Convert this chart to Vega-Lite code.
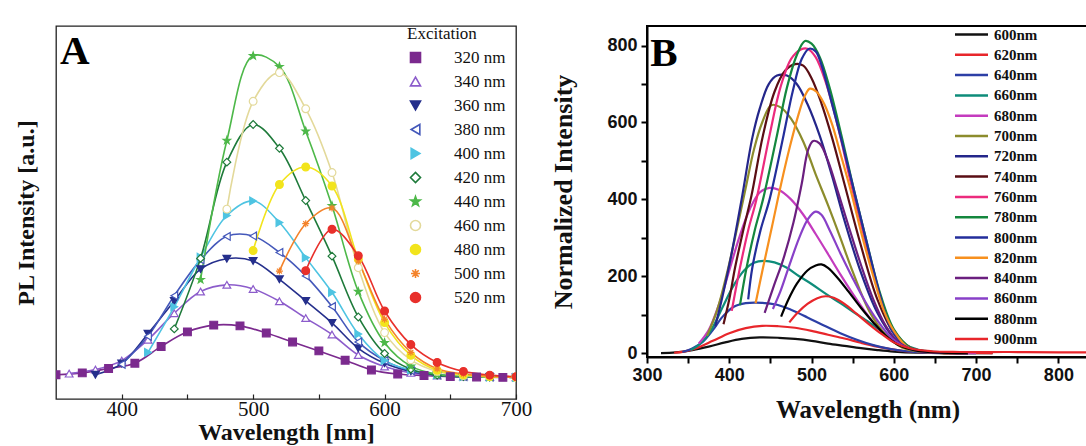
{
"$schema": "https://vega.github.io/schema/vega-lite/v6.json",
"padding": {"left": 13, "top": 15, "right": 0, "bottom": 0},
"background": "white",
"spacing": 16,
"config": {"font": "Liberation Serif"},
"resolve": {"scale": {"color": "independent", "stroke": "independent", "fill": "independent", "shape": "independent"}, "legend": {"color": "independent", "stroke": "independent", "fill": "independent", "shape": "independent"}},
"datasets": {
"a": [
{"ex":"320 nm","wl":350,"v":6.5},{"ex":"320 nm","wl":370,"v":7.0},{"ex":"320 nm","wl":390,"v":8.2},{"ex":"320 nm","wl":410,"v":9.6},{"ex":"320 nm","wl":430,"v":14.1},{"ex":"320 nm","wl":450,"v":18.0},{"ex":"320 nm","wl":470,"v":19.8},{"ex":"320 nm","wl":490,"v":19.6},{"ex":"320 nm","wl":510,"v":17.7},{"ex":"320 nm","wl":530,"v":15.3},{"ex":"320 nm","wl":550,"v":12.9},{"ex":"320 nm","wl":570,"v":10.4},{"ex":"320 nm","wl":590,"v":7.8},{"ex":"320 nm","wl":610,"v":6.7},{"ex":"320 nm","wl":630,"v":6.3},{"ex":"320 nm","wl":650,"v":6.0},{"ex":"320 nm","wl":670,"v":5.9},{"ex":"320 nm","wl":690,"v":5.8},
{"ex":"340 nm","wl":360,"v":6.8},{"ex":"340 nm","wl":380,"v":7.9},{"ex":"340 nm","wl":400,"v":10.3},{"ex":"340 nm","wl":420,"v":15.9},{"ex":"340 nm","wl":440,"v":23.0},{"ex":"340 nm","wl":460,"v":28.8},{"ex":"340 nm","wl":480,"v":30.6},{"ex":"340 nm","wl":500,"v":29.5},{"ex":"340 nm","wl":520,"v":26.2},{"ex":"340 nm","wl":540,"v":21.7},{"ex":"340 nm","wl":560,"v":17.3},{"ex":"340 nm","wl":580,"v":11.8},{"ex":"340 nm","wl":600,"v":8.7},{"ex":"340 nm","wl":620,"v":7.0},{"ex":"340 nm","wl":640,"v":6.3},{"ex":"340 nm","wl":660,"v":6.0},{"ex":"340 nm","wl":680,"v":5.9},{"ex":"340 nm","wl":700,"v":5.8},
{"ex":"360 nm","wl":380,"v":6.5},{"ex":"360 nm","wl":400,"v":9.5},{"ex":"360 nm","wl":420,"v":17.5},{"ex":"360 nm","wl":440,"v":26.3},{"ex":"360 nm","wl":460,"v":34.8},{"ex":"360 nm","wl":480,"v":37.6},{"ex":"360 nm","wl":500,"v":37.0},{"ex":"360 nm","wl":520,"v":32.1},{"ex":"360 nm","wl":540,"v":26.3},{"ex":"360 nm","wl":560,"v":20.4},{"ex":"360 nm","wl":580,"v":13.6},{"ex":"360 nm","wl":600,"v":9.6},{"ex":"360 nm","wl":620,"v":7.4},{"ex":"360 nm","wl":640,"v":6.4},{"ex":"360 nm","wl":660,"v":6.0},{"ex":"360 nm","wl":680,"v":5.9},{"ex":"360 nm","wl":700,"v":5.8},
{"ex":"380 nm","wl":400,"v":9.3},{"ex":"380 nm","wl":420,"v":16.8},{"ex":"380 nm","wl":440,"v":27.7},{"ex":"380 nm","wl":460,"v":37.3},{"ex":"380 nm","wl":480,"v":43.6},{"ex":"380 nm","wl":500,"v":43.7},{"ex":"380 nm","wl":520,"v":39.3},{"ex":"380 nm","wl":540,"v":33.0},{"ex":"380 nm","wl":560,"v":24.8},{"ex":"380 nm","wl":580,"v":15.3},{"ex":"380 nm","wl":600,"v":10.3},{"ex":"380 nm","wl":620,"v":7.6},{"ex":"380 nm","wl":640,"v":6.5},{"ex":"380 nm","wl":660,"v":6.0},{"ex":"380 nm","wl":680,"v":5.9},{"ex":"380 nm","wl":700,"v":5.8},
{"ex":"400 nm","wl":420,"v":12.5},{"ex":"400 nm","wl":440,"v":24.7},{"ex":"400 nm","wl":460,"v":38.0},{"ex":"400 nm","wl":480,"v":49.2},{"ex":"400 nm","wl":500,"v":53.1},{"ex":"400 nm","wl":520,"v":47.3},{"ex":"400 nm","wl":540,"v":37.9},{"ex":"400 nm","wl":560,"v":28.6},{"ex":"400 nm","wl":580,"v":17.4},{"ex":"400 nm","wl":600,"v":10.3},{"ex":"400 nm","wl":620,"v":7.8},{"ex":"400 nm","wl":640,"v":6.5},{"ex":"400 nm","wl":660,"v":6.0},{"ex":"400 nm","wl":680,"v":5.9},{"ex":"400 nm","wl":700,"v":5.8},
{"ex":"420 nm","wl":440,"v":18.8},{"ex":"420 nm","wl":460,"v":37.7},{"ex":"420 nm","wl":480,"v":63.5},{"ex":"420 nm","wl":500,"v":73.6},{"ex":"420 nm","wl":520,"v":67.2},{"ex":"420 nm","wl":540,"v":53.2},{"ex":"420 nm","wl":560,"v":38.3},{"ex":"420 nm","wl":580,"v":22.0},{"ex":"420 nm","wl":600,"v":12.2},{"ex":"420 nm","wl":620,"v":8.0},{"ex":"420 nm","wl":640,"v":6.4},{"ex":"420 nm","wl":660,"v":6.0},{"ex":"420 nm","wl":680,"v":5.9},{"ex":"420 nm","wl":700,"v":5.8},
{"ex":"440 nm","wl":460,"v":32.0},{"ex":"440 nm","wl":480,"v":69.3},{"ex":"440 nm","wl":500,"v":92.0},{"ex":"440 nm","wl":520,"v":89.1},{"ex":"440 nm","wl":540,"v":71.8},{"ex":"440 nm","wl":560,"v":51.8},{"ex":"440 nm","wl":580,"v":28.8},{"ex":"440 nm","wl":600,"v":15.1},{"ex":"440 nm","wl":620,"v":8.8},{"ex":"440 nm","wl":640,"v":6.6},{"ex":"440 nm","wl":660,"v":6.1},{"ex":"440 nm","wl":680,"v":5.9},{"ex":"440 nm","wl":700,"v":5.8},
{"ex":"460 nm","wl":480,"v":50.9},{"ex":"460 nm","wl":500,"v":79.8},{"ex":"460 nm","wl":520,"v":87.5},{"ex":"460 nm","wl":540,"v":77.8},{"ex":"460 nm","wl":560,"v":60.7},{"ex":"460 nm","wl":580,"v":35.2},{"ex":"460 nm","wl":600,"v":17.8},{"ex":"460 nm","wl":620,"v":10.5},{"ex":"460 nm","wl":640,"v":7.4},{"ex":"460 nm","wl":660,"v":6.3},{"ex":"460 nm","wl":680,"v":6.0},{"ex":"460 nm","wl":700,"v":5.8},
{"ex":"480 nm","wl":500,"v":39.8},{"ex":"480 nm","wl":520,"v":57.5},{"ex":"480 nm","wl":540,"v":62.2},{"ex":"480 nm","wl":560,"v":57.1},{"ex":"480 nm","wl":580,"v":37.5},{"ex":"480 nm","wl":600,"v":20.5},{"ex":"480 nm","wl":620,"v":11.7},{"ex":"480 nm","wl":640,"v":7.7},{"ex":"480 nm","wl":660,"v":6.5},{"ex":"480 nm","wl":680,"v":6.0},{"ex":"480 nm","wl":700,"v":5.9},
{"ex":"500 nm","wl":520,"v":34.3},{"ex":"500 nm","wl":540,"v":47.0},{"ex":"500 nm","wl":560,"v":51.2},{"ex":"500 nm","wl":580,"v":37.0},{"ex":"500 nm","wl":600,"v":21.4},{"ex":"500 nm","wl":620,"v":12.5},{"ex":"500 nm","wl":640,"v":8.1},{"ex":"500 nm","wl":660,"v":6.7},{"ex":"500 nm","wl":680,"v":6.1},{"ex":"500 nm","wl":700,"v":5.9},
{"ex":"520 nm","wl":540,"v":34.4},{"ex":"520 nm","wl":560,"v":45.5},{"ex":"520 nm","wl":580,"v":38.4},{"ex":"520 nm","wl":600,"v":23.6},{"ex":"520 nm","wl":620,"v":14.6},{"ex":"520 nm","wl":640,"v":9.8},{"ex":"520 nm","wl":660,"v":7.4},{"ex":"520 nm","wl":680,"v":6.4},{"ex":"520 nm","wl":700,"v":6.0}
],
"b": [
{"ex":"600nm","wl":317,"v":0},{"ex":"600nm","wl":335,"v":2},{"ex":"600nm","wl":355,"v":8},{"ex":"600nm","wl":375,"v":17},{"ex":"600nm","wl":395,"v":28},{"ex":"600nm","wl":415,"v":37},{"ex":"600nm","wl":437,"v":41},{"ex":"600nm","wl":460,"v":40},{"ex":"600nm","wl":480,"v":37},{"ex":"600nm","wl":500,"v":32},{"ex":"600nm","wl":520,"v":25},{"ex":"600nm","wl":540,"v":19},{"ex":"600nm","wl":560,"v":13},{"ex":"600nm","wl":580,"v":8},{"ex":"600nm","wl":600,"v":4},{"ex":"600nm","wl":630,"v":1},{"ex":"600nm","wl":670,"v":0},{"ex":"600nm","wl":720,"v":0},
{"ex":"620nm","wl":333,"v":1},{"ex":"620nm","wl":345,"v":4},{"ex":"620nm","wl":360,"v":13},{"ex":"620nm","wl":380,"v":32},{"ex":"620nm","wl":400,"v":52},{"ex":"620nm","wl":420,"v":65},{"ex":"620nm","wl":440,"v":71},{"ex":"620nm","wl":460,"v":70},{"ex":"620nm","wl":480,"v":66},{"ex":"620nm","wl":500,"v":58},{"ex":"620nm","wl":520,"v":48},{"ex":"620nm","wl":540,"v":38},{"ex":"620nm","wl":560,"v":27},{"ex":"620nm","wl":580,"v":17},{"ex":"620nm","wl":600,"v":9},{"ex":"620nm","wl":625,"v":3},{"ex":"620nm","wl":660,"v":1},{"ex":"620nm","wl":720,"v":0},
{"ex":"640nm","wl":343,"v":3},{"ex":"640nm","wl":355,"v":12},{"ex":"640nm","wl":368,"v":30},{"ex":"640nm","wl":380,"v":60},{"ex":"640nm","wl":392,"v":95},{"ex":"640nm","wl":405,"v":120},{"ex":"640nm","wl":420,"v":130},{"ex":"640nm","wl":440,"v":131},{"ex":"640nm","wl":458,"v":126},{"ex":"640nm","wl":475,"v":113},{"ex":"640nm","wl":495,"v":93},{"ex":"640nm","wl":515,"v":72},{"ex":"640nm","wl":535,"v":52},{"ex":"640nm","wl":555,"v":35},{"ex":"640nm","wl":575,"v":21},{"ex":"640nm","wl":595,"v":11},{"ex":"640nm","wl":615,"v":5},{"ex":"640nm","wl":640,"v":1},{"ex":"640nm","wl":690,"v":0},
{"ex":"660nm","wl":353,"v":8},{"ex":"660nm","wl":365,"v":25},{"ex":"660nm","wl":378,"v":60},{"ex":"660nm","wl":392,"v":120},{"ex":"660nm","wl":405,"v":175},{"ex":"660nm","wl":418,"v":215},{"ex":"660nm","wl":430,"v":235},{"ex":"660nm","wl":442,"v":240},{"ex":"660nm","wl":455,"v":236},{"ex":"660nm","wl":470,"v":222},{"ex":"660nm","wl":485,"v":200},{"ex":"660nm","wl":500,"v":180},{"ex":"660nm","wl":517,"v":155},{"ex":"660nm","wl":535,"v":130},{"ex":"660nm","wl":550,"v":108},{"ex":"660nm","wl":570,"v":80},{"ex":"660nm","wl":590,"v":50},{"ex":"660nm","wl":610,"v":25},{"ex":"660nm","wl":630,"v":9},{"ex":"660nm","wl":660,"v":2},{"ex":"660nm","wl":700,"v":0},
{"ex":"680nm","wl":363,"v":25},{"ex":"680nm","wl":375,"v":60},{"ex":"680nm","wl":388,"v":130},{"ex":"680nm","wl":400,"v":215},{"ex":"680nm","wl":412,"v":300},{"ex":"680nm","wl":425,"v":375},{"ex":"680nm","wl":437,"v":418},{"ex":"680nm","wl":449,"v":430},{"ex":"680nm","wl":460,"v":425},{"ex":"680nm","wl":475,"v":400},{"ex":"680nm","wl":490,"v":360},{"ex":"680nm","wl":505,"v":310},{"ex":"680nm","wl":520,"v":258},{"ex":"680nm","wl":535,"v":205},{"ex":"680nm","wl":550,"v":155},{"ex":"680nm","wl":565,"v":108},{"ex":"680nm","wl":580,"v":68},{"ex":"680nm","wl":595,"v":38},{"ex":"680nm","wl":610,"v":18},{"ex":"680nm","wl":630,"v":6},{"ex":"680nm","wl":660,"v":1},{"ex":"680nm","wl":700,"v":0},
{"ex":"700nm","wl":373,"v":45},{"ex":"700nm","wl":385,"v":110},{"ex":"700nm","wl":398,"v":215},{"ex":"700nm","wl":410,"v":330},{"ex":"700nm","wl":420,"v":430},{"ex":"700nm","wl":430,"v":530},{"ex":"700nm","wl":440,"v":600},{"ex":"700nm","wl":451,"v":645},{"ex":"700nm","wl":462,"v":640},{"ex":"700nm","wl":475,"v":610},{"ex":"700nm","wl":490,"v":550},{"ex":"700nm","wl":505,"v":465},{"ex":"700nm","wl":520,"v":385},{"ex":"700nm","wl":535,"v":300},{"ex":"700nm","wl":550,"v":212},{"ex":"700nm","wl":570,"v":110},{"ex":"700nm","wl":590,"v":48},{"ex":"700nm","wl":610,"v":15},{"ex":"700nm","wl":635,"v":3},{"ex":"700nm","wl":670,"v":0},
{"ex":"720nm","wl":383,"v":70},{"ex":"720nm","wl":392,"v":150},{"ex":"720nm","wl":402,"v":250},{"ex":"720nm","wl":415,"v":400},{"ex":"720nm","wl":428,"v":560},{"ex":"720nm","wl":437,"v":636},{"ex":"720nm","wl":448,"v":700},{"ex":"720nm","wl":458,"v":722},{"ex":"720nm","wl":470,"v":722},{"ex":"720nm","wl":482,"v":700},{"ex":"720nm","wl":495,"v":648},{"ex":"720nm","wl":510,"v":565},{"ex":"720nm","wl":525,"v":460},{"ex":"720nm","wl":540,"v":345},{"ex":"720nm","wl":560,"v":210},{"ex":"720nm","wl":580,"v":105},{"ex":"720nm","wl":600,"v":40},{"ex":"720nm","wl":620,"v":12},{"ex":"720nm","wl":650,"v":2},{"ex":"720nm","wl":690,"v":0},
{"ex":"740nm","wl":393,"v":75},{"ex":"740nm","wl":400,"v":140},{"ex":"740nm","wl":407,"v":222},{"ex":"740nm","wl":417,"v":320},{"ex":"740nm","wl":427,"v":410},{"ex":"740nm","wl":441,"v":567},{"ex":"740nm","wl":455,"v":680},{"ex":"740nm","wl":468,"v":735},{"ex":"740nm","wl":480,"v":752},{"ex":"740nm","wl":490,"v":748},{"ex":"740nm","wl":500,"v":715},{"ex":"740nm","wl":512,"v":650},{"ex":"740nm","wl":525,"v":560},{"ex":"740nm","wl":540,"v":440},{"ex":"740nm","wl":560,"v":280},{"ex":"740nm","wl":580,"v":140},{"ex":"740nm","wl":600,"v":52},{"ex":"740nm","wl":620,"v":14},{"ex":"740nm","wl":650,"v":2},{"ex":"740nm","wl":690,"v":0},
{"ex":"760nm","wl":403,"v":110},{"ex":"760nm","wl":413,"v":222},{"ex":"760nm","wl":423,"v":320},{"ex":"760nm","wl":433,"v":400},{"ex":"760nm","wl":449,"v":567},{"ex":"760nm","wl":462,"v":690},{"ex":"760nm","wl":475,"v":765},{"ex":"760nm","wl":487,"v":790},{"ex":"760nm","wl":495,"v":792},{"ex":"760nm","wl":505,"v":770},{"ex":"760nm","wl":518,"v":700},{"ex":"760nm","wl":532,"v":590},{"ex":"760nm","wl":547,"v":450},{"ex":"760nm","wl":562,"v":320},{"ex":"760nm","wl":580,"v":170},{"ex":"760nm","wl":600,"v":60},{"ex":"760nm","wl":620,"v":15},{"ex":"760nm","wl":650,"v":2},{"ex":"760nm","wl":690,"v":0},
{"ex":"780nm","wl":413,"v":125},{"ex":"780nm","wl":421,"v":222},{"ex":"780nm","wl":431,"v":320},{"ex":"780nm","wl":441,"v":400},{"ex":"780nm","wl":458,"v":567},{"ex":"780nm","wl":470,"v":690},{"ex":"780nm","wl":482,"v":775},{"ex":"780nm","wl":492,"v":812},{"ex":"780nm","wl":500,"v":805},{"ex":"780nm","wl":510,"v":770},{"ex":"780nm","wl":522,"v":690},{"ex":"780nm","wl":537,"v":560},{"ex":"780nm","wl":552,"v":420},{"ex":"780nm","wl":567,"v":290},{"ex":"780nm","wl":582,"v":165},{"ex":"780nm","wl":600,"v":62},{"ex":"780nm","wl":620,"v":15},{"ex":"780nm","wl":650,"v":2},{"ex":"780nm","wl":690,"v":0},
{"ex":"800nm","wl":423,"v":140},{"ex":"800nm","wl":428,"v":222},{"ex":"800nm","wl":438,"v":320},{"ex":"800nm","wl":449,"v":400},{"ex":"800nm","wl":466,"v":567},{"ex":"800nm","wl":477,"v":680},{"ex":"800nm","wl":488,"v":765},{"ex":"800nm","wl":497,"v":792},{"ex":"800nm","wl":505,"v":785},{"ex":"800nm","wl":512,"v":750},{"ex":"800nm","wl":521,"v":680},{"ex":"800nm","wl":532,"v":590},{"ex":"800nm","wl":542,"v":506},{"ex":"800nm","wl":552,"v":420},{"ex":"800nm","wl":562,"v":333},{"ex":"800nm","wl":572,"v":245},{"ex":"800nm","wl":582,"v":160},{"ex":"800nm","wl":590,"v":100},{"ex":"800nm","wl":598,"v":57},{"ex":"800nm","wl":608,"v":30},{"ex":"800nm","wl":618,"v":14},{"ex":"800nm","wl":635,"v":4},{"ex":"800nm","wl":650,"v":1},{"ex":"800nm","wl":690,"v":0},
{"ex":"820nm","wl":432,"v":130},{"ex":"820nm","wl":441,"v":222},{"ex":"820nm","wl":452,"v":330},{"ex":"820nm","wl":463,"v":440},{"ex":"820nm","wl":474,"v":540},{"ex":"820nm","wl":484,"v":620},{"ex":"820nm","wl":492,"v":670},{"ex":"820nm","wl":498,"v":688},{"ex":"820nm","wl":506,"v":680},{"ex":"820nm","wl":515,"v":650},{"ex":"820nm","wl":525,"v":595},{"ex":"820nm","wl":535,"v":520},{"ex":"820nm","wl":548,"v":420},{"ex":"820nm","wl":562,"v":300},{"ex":"820nm","wl":575,"v":200},{"ex":"820nm","wl":588,"v":110},{"ex":"820nm","wl":600,"v":58},{"ex":"820nm","wl":618,"v":14},{"ex":"820nm","wl":650,"v":1},{"ex":"820nm","wl":690,"v":0},
{"ex":"840nm","wl":443,"v":105},{"ex":"840nm","wl":455,"v":180},{"ex":"840nm","wl":465,"v":240},{"ex":"840nm","wl":478,"v":340},{"ex":"840nm","wl":488,"v":440},{"ex":"840nm","wl":496,"v":530},{"ex":"840nm","wl":502,"v":552},{"ex":"840nm","wl":510,"v":545},{"ex":"840nm","wl":520,"v":500},{"ex":"840nm","wl":532,"v":420},{"ex":"840nm","wl":545,"v":330},{"ex":"840nm","wl":560,"v":230},{"ex":"840nm","wl":575,"v":140},{"ex":"840nm","wl":590,"v":72},{"ex":"840nm","wl":605,"v":30},{"ex":"840nm","wl":625,"v":8},{"ex":"840nm","wl":650,"v":2},{"ex":"840nm","wl":690,"v":0},
{"ex":"860nm","wl":453,"v":115},{"ex":"860nm","wl":462,"v":160},{"ex":"860nm","wl":472,"v":222},{"ex":"860nm","wl":485,"v":300},{"ex":"860nm","wl":496,"v":350},{"ex":"860nm","wl":505,"v":368},{"ex":"860nm","wl":512,"v":360},{"ex":"860nm","wl":522,"v":320},{"ex":"860nm","wl":535,"v":260},{"ex":"860nm","wl":550,"v":195},{"ex":"860nm","wl":565,"v":135},{"ex":"860nm","wl":580,"v":85},{"ex":"860nm","wl":598,"v":38},{"ex":"860nm","wl":618,"v":12},{"ex":"860nm","wl":645,"v":2},{"ex":"860nm","wl":690,"v":0},
{"ex":"880nm","wl":463,"v":95},{"ex":"880nm","wl":472,"v":140},{"ex":"880nm","wl":482,"v":180},{"ex":"880nm","wl":495,"v":215},{"ex":"880nm","wl":505,"v":228},{"ex":"880nm","wl":512,"v":231},{"ex":"880nm","wl":520,"v":222},{"ex":"880nm","wl":532,"v":195},{"ex":"880nm","wl":545,"v":160},{"ex":"880nm","wl":560,"v":118},{"ex":"880nm","wl":575,"v":80},{"ex":"880nm","wl":590,"v":46},{"ex":"880nm","wl":605,"v":22},{"ex":"880nm","wl":625,"v":8},{"ex":"880nm","wl":650,"v":2},{"ex":"880nm","wl":690,"v":0},
{"ex":"900nm","wl":473,"v":80},{"ex":"900nm","wl":483,"v":105},{"ex":"900nm","wl":495,"v":128},{"ex":"900nm","wl":507,"v":143},{"ex":"900nm","wl":517,"v":148},{"ex":"900nm","wl":527,"v":144},{"ex":"900nm","wl":540,"v":128},{"ex":"900nm","wl":555,"v":102},{"ex":"900nm","wl":570,"v":75},{"ex":"900nm","wl":585,"v":50},{"ex":"900nm","wl":600,"v":28},{"ex":"900nm","wl":620,"v":12},{"ex":"900nm","wl":645,"v":5},{"ex":"900nm","wl":680,"v":3},{"ex":"900nm","wl":740,"v":3},{"ex":"900nm","wl":800,"v":2},{"ex":"900nm","wl":840,"v":2}
]
},
"hconcat": [
{
"width": 460,
"height": 373,
"view": {"stroke": "#222222", "strokeWidth": 1.3},
"layer": [
{
"data": {"name": "a"},
"mark": {"type": "line", "interpolate": "catmull-rom", "strokeWidth": 1.6, "clip": true},
"encoding": {
"x": {"field": "wl", "type": "quantitative", "scale": {"domain": [350, 700], "nice": false, "zero": false},
"axis": {"title": "Wavelength [nm]", "values": [400,450,500,550,600,650,700], "labelExpr": "datum.value % 100 ? '' : datum.label", "labelFlush": false, "labelOverlap": false, "grid": false, "domain": false, "tickColor": "#222222", "tickWidth": 1.2, "tickSize": -5, "labelFont": "Liberation Serif", "labelFontSize": 21, "labelColor": "#111111", "labelPadding": 4, "titleFont": "Liberation Serif", "titleFontSize": 24, "titleFontWeight": "bold", "titleColor": "#111111", "titlePadding": 1}},
"y": {"field": "v", "type": "quantitative", "scale": {"domain": [0, 100], "nice": false, "zero": false},
"axis": {"title": "PL Intensity [a.u.]", "labels": false, "ticks": false, "domain": false, "grid": false, "titleFont": "Liberation Serif", "titleFontSize": 24, "titleFontWeight": "bold", "titleColor": "#111111", "titlePadding": 18}},
"color": {"field": "ex", "type": "nominal",
"scale": {"domain": ["320 nm","340 nm","360 nm","380 nm","400 nm","420 nm","440 nm","460 nm","480 nm","500 nm","520 nm"], "range": ["#7B2A8E","#8C5CCB","#252F8C","#4458BA","#4EC4E2","#1E7A3A","#4DB849","#E3D99A","#F2E41C","#F4832B","#E8302B"]},
"legend": {"title": "Excitation", "orient": "none", "legendX": 351, "legendY": 0, "symbolType": "M-1,0H7.8", "symbolSize": 100, "symbolStrokeWidth": 1.6, "labelOffset": 30, "rowPadding": 6, "titlePadding": 6, "labelFont": "Liberation Serif", "labelFontSize": 17, "labelColor": "#111111", "titleFont": "Liberation Serif", "titleFontSize": 17, "titleFontWeight": "normal", "titleColor": "#111111"}
}
}
},
{
"data": {"name": "a"},
"mark": {"type": "point", "size": 60, "strokeWidth": 1.2, "opacity": 1, "clip": true},
"encoding": {
"x": {"field": "wl", "type": "quantitative"},
"y": {"field": "v", "type": "quantitative"},
"stroke": {"field": "ex", "type": "nominal", "scale": {"domain": ["320 nm","340 nm","360 nm","380 nm","400 nm","420 nm","440 nm","460 nm","480 nm","500 nm","520 nm"], "range": ["#7B2A8E","#8C5CCB","#252F8C","#4458BA","#4EC4E2","#1E7A3A","#4DB849","#E3D99A","#F2E41C","#F4832B","#E8302B"]}, "legend": null},
"fill": {"field": "ex", "type": "nominal", "scale": {"domain": ["320 nm","340 nm","360 nm","380 nm","400 nm","420 nm","440 nm","460 nm","480 nm","500 nm","520 nm"], "range": ["#7B2A8E","#ffffff","#252F8C","#ffffff","#4EC4E2","#ffffff","#4DB849","#ffffff","#F2E41C","#F4832B","#E8302B"]}, "legend": null},
"shape": {"field": "ex", "type": "nominal", "scale": {"domain": ["320 nm","340 nm","360 nm","380 nm","400 nm","420 nm","440 nm","460 nm","480 nm","500 nm","520 nm"], "range": ["square","triangle-up","triangle-down","triangle-left","triangle-right","diamond","M0,-1L0.235,-0.324L0.951,-0.309L0.38,0.124L0.588,0.809L0,0.4L-0.588,0.809L-0.38,0.124L-0.951,-0.309L-0.235,-0.324Z","circle","circle","M-0.9,0H0.9M0,-0.9V0.9M-0.64,-0.64L0.64,0.64M-0.64,0.64L0.64,-0.64","circle"]}, "legend": null}
}
},
{
"data": {"values": [{}]},
"mark": {"type": "text", "font": "Liberation Serif", "fontSize": 41, "fontWeight": "bold", "align": "left", "baseline": "alphabetic", "color": "#000000"},
"encoding": {"x": {"datum": 353}, "y": {"datum": 89.8}, "text": {"value": "A"}}
}
]
},
{
"width": 441,
"height": 331,
"title": {"text": " ", "fontSize": 10, "offset": 0},
"view": {"stroke": "#000000", "strokeWidth": 2},
"layer": [
{
"data": {"name": "b"},
"mark": {"type": "line", "interpolate": "catmull-rom", "strokeWidth": 2.2, "clip": true},
"encoding": {
"x": {"field": "wl", "type": "quantitative", "scale": {"domain": [300, 836], "nice": false, "zero": false},
"axis": {"title": "Wavelength (nm)", "values": [300,350,400,450,500,550,600,650,700,750,800], "labelExpr": "datum.value % 100 ? '' : datum.label", "labelFlush": false, "labelOverlap": false, "grid": false, "domainColor": "#000000", "domainWidth": 2, "tickColor": "#000000", "tickWidth": 2, "tickSize": 6, "labelFont": "Liberation Sans", "labelFontWeight": "bold", "labelFontSize": 18, "labelColor": "#111111", "labelPadding": 3, "titleFont": "Liberation Serif", "titleFontSize": 25, "titleFontWeight": "bold", "titleColor": "#111111", "titlePadding": 13}},
"y": {"field": "v", "type": "quantitative", "scale": {"domain": [-10, 851], "nice": false, "zero": false},
"axis": {"title": "Normalized Intensity", "values": [0,100,200,300,400,500,600,700,800], "labelExpr": "datum.value % 200 ? '' : datum.label", "labelOverlap": false, "labelFlush": false, "grid": false, "domainColor": "#000000", "domainWidth": 2, "tickColor": "#000000", "tickWidth": 2, "tickSize": 6, "labelFont": "Liberation Sans", "labelFontWeight": "bold", "labelFontSize": 18, "labelColor": "#111111", "labelPadding": 4, "titleFont": "Liberation Serif", "titleFontSize": 26, "titleFontWeight": "bold", "titleColor": "#111111", "titlePadding": 30}},
"color": {"field": "ex", "type": "nominal",
"scale": {"domain": ["600nm","620nm","640nm","660nm","680nm","700nm","720nm","740nm","760nm","780nm","800nm","820nm","840nm","860nm","880nm","900nm"], "range": ["#111111","#E8262B","#2C3FA6","#0E8C7A","#C43BBE","#8C8C2C","#24268A","#5A0E14","#EC2B7D","#14873E","#232E9B","#F7901E","#6B1F7F","#8840C8","#000000","#E8262B"]},
"legend": {"title": null, "orient": "none", "legendX": 306, "legendY": 1, "symbolType": "M-1,0H5", "symbolSize": 121, "symbolStrokeWidth": 2.5, "labelOffset": 26, "rowPadding": 4.3, "labelFont": "Liberation Serif", "labelFontWeight": "bold", "labelFontSize": 15, "labelColor": "#111111"}
}
}
},
{
"data": {"values": [{}]},
"mark": {"type": "text", "font": "Liberation Serif", "fontSize": 41, "fontWeight": "bold", "align": "left", "baseline": "alphabetic", "color": "#000000"},
"encoding": {"x": {"datum": 304}, "y": {"datum": 748}, "text": {"value": "B"}}
}
]
}
]
}
